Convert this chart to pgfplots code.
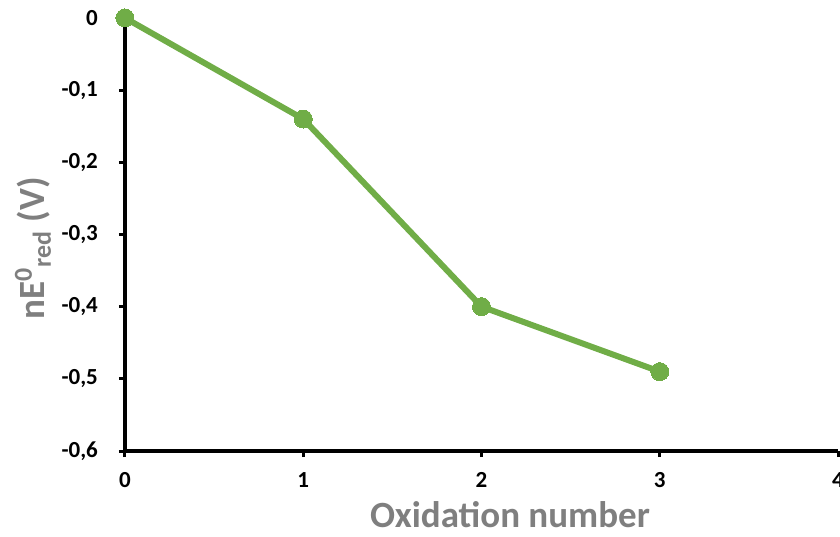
\documentclass[border=0pt]{standalone}
\usepackage{pgfplots}
\pgfplotsset{compat=1.18}
\usepackage{fontspec}
\setmainfont{Carlito}
\definecolor{lgreen}{HTML}{70AD47}
\definecolor{lgray}{HTML}{7F7F7F}
\begin{document}
\begin{tikzpicture}
\begin{axis}[
  scale only axis,
  width=356.5pt, height=216.5pt,
  xmin=0, xmax=4, ymin=-0.6, ymax=0,
  axis lines*=left,
  axis line style={black, line width=2pt},
  xtick={0,1,2,3,4},
  ytick={-0.6,-0.5,-0.4,-0.3,-0.2,-0.1,0},
  tick style={black, line width=1.5pt},
  tick align=outside,
  major tick length=3pt,
  /pgf/number format/assume math mode=true,
  /pgf/number format/use comma,
  /pgf/number format/fixed,
  /pgf/number format/precision=1,
  ticklabel style={font=\fontsize{11.5}{13}\selectfont\bfseries},
  xticklabel style={yshift=-4pt},
  yticklabel style={xshift=-7pt},
  xlabel={Oxidation number},
  ylabel={nE\textsuperscript{0}\textsubscript{red} (V)},
  label style={font=\fontsize{18.5}{21}\selectfont\bfseries, text=lgray},
  xlabel style={at={(axis description cs:0.54,-0.148)}, anchor=center},
  ylabel style={at={(axis description cs:-0.129,0.468)}, anchor=center},
  clip=false,
]
\addplot[color=lgreen, line width=3pt, mark=*, mark size=4.5pt, mark options={fill=lgreen, draw=lgreen, line width=0pt}]
coordinates {(0,0) (1,-0.14) (2,-0.40) (3,-0.49)};
\coordinate (bl) at (axis cs:-0.701,-0.7188);
\coordinate (tr) at (axis cs:4.011,0.0249);
\end{axis}
\pgfresetboundingbox
\path[use as bounding box] (bl) rectangle (tr);
\end{tikzpicture}
\end{document}
